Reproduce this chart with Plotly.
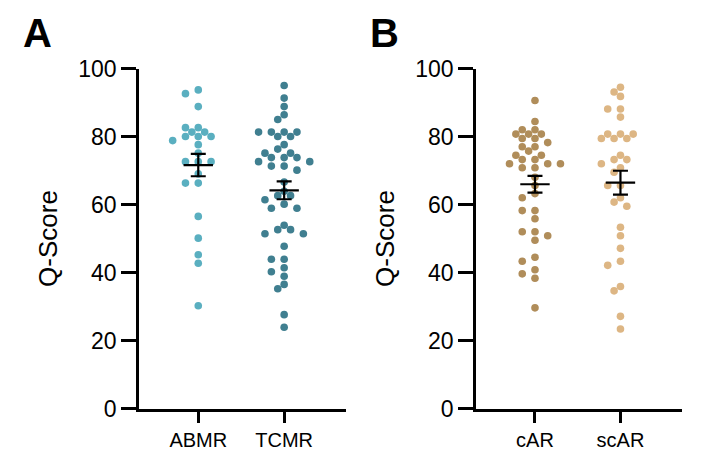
import numpy as np
import plotly.graph_objects as go

# ---- data (Q-Score per patient) ----
abmr = [93.7, 92.6, 88.8, 82.6, 82.6, 81.3, 81.3, 80.0, 80.0, 80.0, 78.8, 77.6,
        75.1, 72.6, 72.6, 72.6, 69.0, 66.3, 66.3, 56.5, 50.1, 45.2, 42.7, 30.2]
tcmr = [95.0, 91.3, 88.8, 86.4, 85.0, 81.3, 81.3, 81.3, 81.3, 80.0, 80.0, 77.6,
        76.3, 75.1, 75.1, 73.8, 73.8, 73.8, 72.6, 72.6, 71.3, 71.3, 70.1, 66.6,
        63.9, 62.6, 62.6, 61.4, 60.1, 58.9, 58.9, 53.9, 52.6, 52.6, 51.4, 51.4,
        47.7, 43.9, 43.9, 41.4, 40.2, 38.9, 36.5, 35.2, 27.6, 23.9]
car = [90.6, 84.4, 82.0, 82.0, 80.7, 80.7, 80.7, 79.4, 79.4, 78.2, 77.0, 77.0,
       75.7, 74.5, 74.5, 73.2, 73.2, 72.0, 72.0, 72.0, 70.8, 70.8, 68.0, 65.6,
       63.2, 62.0, 58.2, 58.2, 55.8, 52.0, 52.0, 50.8, 49.5, 44.5, 43.3, 40.8,
       39.6, 38.3, 29.6]
scar = [94.5, 93.1, 91.8, 88.1, 88.1, 85.7, 80.7, 80.7, 80.7, 79.4, 79.4, 79.4,
        74.5, 73.2, 73.2, 72.0, 70.8, 69.5, 65.6, 65.6, 62.0, 60.7, 59.5, 53.3,
        50.8, 47.1, 43.3, 42.1, 35.9, 34.6, 27.1, 23.4]

panel_a_labels = ["ABMR", "TCMR"]
panel_b_labels = ["cAR", "scAR"]
y_ticks = [0, 20, 40, 60, 80, 100]

col_abmr = "#5AAFC0"
col_tcmr = "#407F90"
col_car = "#B08D5A"
col_scar = "#DDB684"

FONT = "Arial, Liberation Sans, sans-serif"

W, H = 701, 465
# plot geometry (pixels)
xa_dom = [139 / W, 346 / W]
xb_dom = [476 / W, 682 / W]
y_dom = [1 - 408.5 / H, 1 - 68.5 / H]
xrange_ = [-0.69, 1.72]
px_per_x = (xa_dom[1] - xa_dom[0]) * W / (xrange_[1] - xrange_[0])
px_per_y = (y_dom[1] - y_dom[0]) * H / 100.0


def swarm(values, step_px=6.4, min_d=7.6):
    """Greedy beeswarm layout; returns x offsets in category units."""
    vals = np.asarray(values, float)
    order = np.argsort(-vals)
    placed = []
    offs = np.zeros(len(vals))
    for i in order:
        y = vals[i] * px_per_y
        best = None
        for k in range(0, 20):
            for kk in ([0] if k == 0 else [-k, k]):
                x = kk * step_px
                ok = all((x - px) ** 2 + (y - py) ** 2 >= min_d ** 2 for px, py in placed)
                if ok:
                    best = x
                    break
            if best is not None:
                break
        placed.append((best, y))
        offs[i] = best / px_per_x
    return offs


def group_traces(values, pos, color, xaxis, yaxis):
    offs = swarm(values)
    vals = np.asarray(values, float)
    pts = go.Scatter(
        x=pos + offs, y=vals, mode="markers",
        marker=dict(size=7.6, color=color, line=dict(width=0)),
        xaxis=xaxis, yaxis=yaxis, showlegend=False, hoverinfo="y",
    )
    m = vals.mean()
    sem = vals.std(ddof=1) / np.sqrt(len(vals))
    mean = go.Scatter(
        x=[pos], y=[m], mode="markers",
        marker=dict(symbol="line-ew", size=21, color="black",
                    line=dict(color="black", width=2.2)),
        error_y=dict(type="data", array=[sem], symmetric=True,
                     color="black", thickness=2.2, width=7.5),
        xaxis=xaxis, yaxis=yaxis, showlegend=False,
    )
    return [pts, mean]


fig = go.Figure()
for t in group_traces(abmr, 0, col_abmr, "x", "y"):
    fig.add_trace(t)
for t in group_traces(tcmr, 1, col_tcmr, "x", "y"):
    fig.add_trace(t)
for t in group_traces(car, 0, col_car, "x2", "y2"):
    fig.add_trace(t)
for t in group_traces(scar, 1, col_scar, "x2", "y2"):
    fig.add_trace(t)

xcommon = dict(
    range=xrange_, showline=True, linecolor="black", linewidth=2.6,
    ticks="outside", ticklen=12, tickwidth=2.6, tickcolor="black",
    tickvals=[0, 1], showgrid=False, zeroline=False, automargin=False,
    tickfont=dict(family=FONT, size=20, color="black"),
)
ycommon = dict(
    range=[0, 100], showline=True, linecolor="black", linewidth=2.6,
    ticks="outside", ticklen=15, tickwidth=2.6, tickcolor="black",
    tickvals=y_ticks, ticktext=[str(v) for v in y_ticks],
    showgrid=False, zeroline=False, automargin=False,
    tickfont=dict(family=FONT, size=23, color="black"),
    title=dict(text="Q-Score", font=dict(family=FONT, size=26, color="black"), standoff=14),
)

fig.update_layout(
    width=W, height=H,
    margin=dict(l=0, r=0, t=0, b=0, autoexpand=False),
    paper_bgcolor="white", plot_bgcolor="white",
    xaxis=dict(domain=xa_dom, ticktext=panel_a_labels, anchor="y", **xcommon),
    xaxis2=dict(domain=xb_dom, ticktext=panel_b_labels, anchor="y2", **xcommon),
    yaxis=dict(domain=y_dom, anchor="x", **ycommon),
    yaxis2=dict(domain=y_dom, anchor="x2", **ycommon),
    annotations=[
        dict(text="<b>A</b>", x=21 / W, y=1 - 33 / H, xref="paper", yref="paper",
             xanchor="left", yanchor="middle", showarrow=False,
             font=dict(family=FONT, size=40, color="black")),
        dict(text="<b>B</b>", x=368 / W, y=1 - 33 / H, xref="paper", yref="paper",
             xanchor="left", yanchor="middle", showarrow=False,
             font=dict(family=FONT, size=40, color="black")),
    ],
)

fig.write_html("out.html",
               config={"displayModeBar": False},
               post_script="document.body.style.margin='0';document.body.style.overflow='hidden';")
